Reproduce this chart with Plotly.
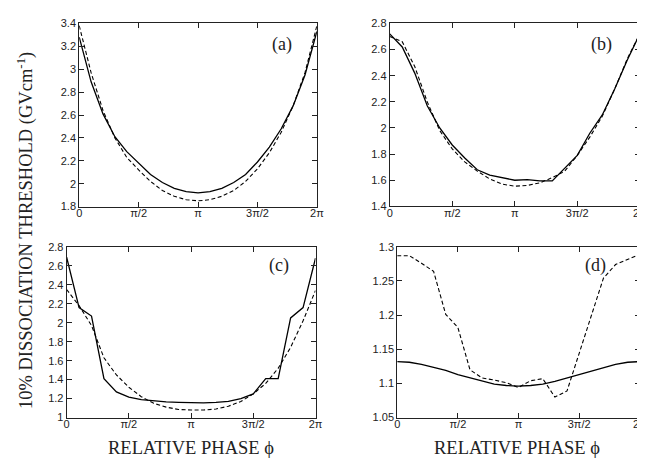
import math
import plotly.graph_objects as go

W, H = 645, 464
PI = math.pi

# phase grid: 21 samples, 0 .. 2pi in steps of pi/10
phase_steps = list(range(21))
phase = [k * PI / 10 for k in phase_steps]

tick_vals = [0, PI / 2, PI, 3 * PI / 2, 2 * PI]
tick_text = ["0", "π/2", "π", "3π/2", "2π"]

# panel (a)
a_solid = [3.28, 2.89, 2.61, 2.41, 2.28, 2.18, 2.08, 2.01, 1.96, 1.93, 1.92,
           1.93, 1.96, 2.01, 2.08, 2.19, 2.32, 2.48, 2.68, 2.95, 3.33]
a_dash = [3.38, 2.97, 2.64, 2.40, 2.23, 2.12, 2.02, 1.94, 1.89, 1.86, 1.85,
          1.86, 1.89, 1.94, 2.02, 2.13, 2.27, 2.45, 2.68, 2.97, 3.38]
# panel (b)
b_solid = [2.72, 2.62, 2.42, 2.17, 2.00, 1.87, 1.77, 1.68, 1.64, 1.62, 1.60,
           1.605, 1.595, 1.595, 1.69, 1.79, 1.96, 2.10, 2.30, 2.52, 2.72]
b_dash = [2.70, 2.66, 2.47, 2.20, 1.98, 1.84, 1.74, 1.67, 1.61, 1.57, 1.555,
          1.56, 1.58, 1.62, 1.67, 1.79, 1.93, 2.09, 2.30, 2.53, 2.72]
# panel (c)
c_solid = [2.69, 2.16, 2.07, 1.41, 1.27, 1.215, 1.19, 1.175, 1.165, 1.16, 1.155,
           1.155, 1.16, 1.17, 1.20, 1.25, 1.41, 1.41, 2.05, 2.16, 2.68]
c_dash = [2.35, 2.18, 1.97, 1.63, 1.45, 1.32, 1.22, 1.15, 1.11, 1.085, 1.08,
          1.08, 1.09, 1.12, 1.17, 1.25, 1.36, 1.52, 1.74, 2.02, 2.34]
# panel (d)
d_solid = [1.132, 1.131, 1.128, 1.124, 1.119, 1.113, 1.108, 1.103, 1.099, 1.097, 1.096,
           1.097, 1.099, 1.103, 1.108, 1.113, 1.119, 1.124, 1.128, 1.131, 1.132]
d_dash = [1.287, 1.287, 1.276, 1.264, 1.201, 1.182, 1.120, 1.108, 1.105, 1.101, 1.094,
          1.104, 1.107, 1.080, 1.089, 1.145, 1.200, 1.254, 1.274, 1.282, 1.289]

panels = [
    ("a", a_solid, a_dash, [1.8, 3.4], 0.2, (69.3, 310.7, 9.7, 197.7), "(a)", (275, 31)),
    ("b", b_solid, b_dash, [1.4, 2.8], 0.2, (384.7, 638.7, 9.7, 197.5), "(b)", (600, 31)),
    ("c", c_solid, c_dash, [1.0, 2.8], 0.2, (56.5, 309.3, 239.0, 414.3), "(c)", (272, 258)),
    ("d", d_solid, d_dash, [1.05, 1.3], 0.05, (392.3, 638.7, 239.0, 414.3), "(d)", (594, 258)),
]

fig = go.Figure()
layout = dict(
    width=W, height=H,
    margin=dict(l=0, r=0, t=0, b=0),
    paper_bgcolor="white", plot_bgcolor="white",
    showlegend=False,
    annotations=[],
)

tickfont = dict(family="Liberation Sans, Arial, sans-serif", size=11, color="#222")
serif = "Liberation Serif, Times New Roman, serif"

for i, (name, ys, yd, yr, dt, box, lab, lpos) in enumerate(panels):
    n = "" if i == 0 else str(i + 1)
    xa, ya = "x" + n, "y" + n
    x0, x1, yt, yb = box
    fig.add_trace(go.Scatter(x=phase, y=ys, mode="lines", xaxis=xa, yaxis=ya,
                             line=dict(color="black", width=1.3)))
    fig.add_trace(go.Scatter(x=phase, y=yd, mode="lines", xaxis=xa, yaxis=ya,
                             line=dict(color="black", width=1.1, dash="4px,2.5px")))
    common = dict(showline=True, linecolor="#222", linewidth=1, mirror="ticks",
                  ticks="inside", ticklen=5, tickcolor="#222", tickwidth=1,
                  showgrid=False, zeroline=False, tickfont=tickfont)
    layout["xaxis" + n] = dict(common, domain=[x0 / W, x1 / W], range=[0, 2 * PI],
                               tickvals=tick_vals, ticktext=tick_text, anchor=ya,
                               ticklabelstandoff=-4)
    layout["yaxis" + n] = dict(common, domain=[1 - yb / H, 1 - yt / H], range=yr,
                               dtick=dt, tick0=yr[0], anchor=xa)
    layout["annotations"].append(dict(
        text=lab, x=lpos[0] / W, y=1 - lpos[1] / H, xref="paper", yref="paper",
        showarrow=False, xanchor="center", yanchor="middle",
        font=dict(family=serif, size=18, color="#222")))

# axis titles
layout["annotations"].append(dict(
    text="10% DISSOCIATION THRESHOLD (GVcm<sup>-1</sup>)", textangle=-90,
    x=14 / W, y=1 - 222 / H, xref="paper", yref="paper", showarrow=False,
    xanchor="center", yanchor="middle", font=dict(family=serif, size=18.5, color="#222")))
for cx in (183, 514):
    layout["annotations"].append(dict(
        text="RELATIVE PHASE ϕ", x=cx / W, y=1 - 446 / H, xref="paper", yref="paper",
        showarrow=False, xanchor="center", yanchor="middle",
        font=dict(family=serif, size=18.5, color="#222")))

fig.update_layout(**layout)
fig.write_html("out.html")
